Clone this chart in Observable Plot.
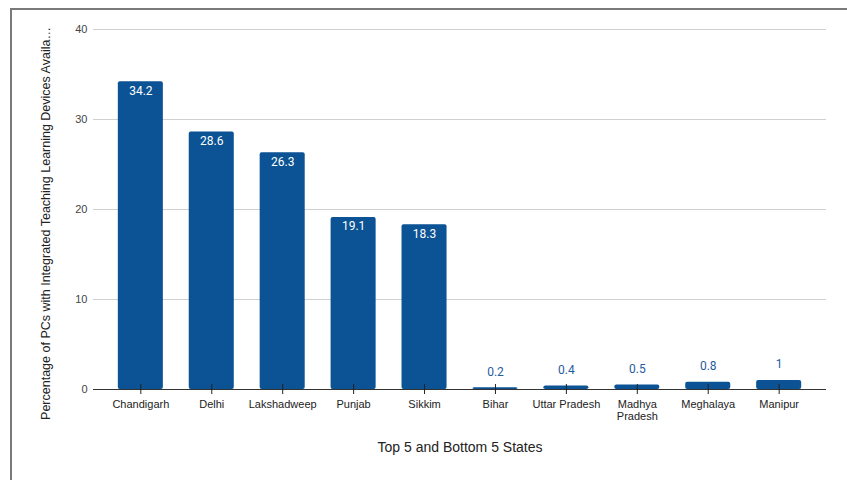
<!DOCTYPE html>
<html>
<head>
<meta charset="utf-8">
<script src="https://cdn.jsdelivr.net/npm/d3@7"></script>
<script src="https://cdn.jsdelivr.net/npm/@observablehq/plot@0.6"></script>
<style>
  html, body { margin: 0; padding: 0; background: #fff; }
  #wrap { position: relative; width: 847px; height: 480px; overflow: hidden; }
  #frame { position: absolute; left: 10px; top: 8px; width: 900px; height: 500px;
           border-left: 2px solid #7a7a7a; border-top: 2px solid #7a7a7a; pointer-events: none; }
</style>
</head>
<body>
<div id="wrap"><div id="frame"></div></div>
<script>
const states = ["Chandigarh", "Delhi", "Lakshadweep", "Punjab", "Sikkim", "Bihar", "Uttar Pradesh", "Madhya Pradesh", "Meghalaya", "Manipur"];
const values = [34.2, 28.6, 26.3, 19.1, 18.3, 0.2, 0.4, 0.5, 0.8, 1];
const yTicks = [0, 10, 20, 30, 40];
const yTitle = "Percentage of PCs with Integrated Teaching Learning Devices Availa\u2026";
const xTitle = "Top 5 and Bottom 5 States";
const tickLabels = {"Madhya Pradesh": "Madhya\nPradesh"};

const data = states.map((s, i) => ({state: s, value: values[i]}));
const barColor = "#0b5394";
const inside = d => d.value >= 5;

const chart = Plot.plot({
  width: 847,
  height: 480,
  marginLeft: 93,
  marginRight: 21,
  marginTop: 29,
  marginBottom: 91,
  style: {fontFamily: "Arial, 'Liberation Sans', sans-serif", background: "transparent"},
  x: {domain: states, paddingInner: 0.365, paddingOuter: 0.35, round: false, label: null},
  y: {domain: [0, 40], label: null},
  marks: [
    Plot.gridY(yTicks, {stroke: "#d0d0d0", strokeOpacity: 1}),
    Plot.axisY(yTicks, {tickSize: 0, tickPadding: 6, fontSize: 11, fill: "#444", label: null}),
    Plot.barY(data, {x: "state", y: "value", fill: barColor, rx: 2}),
    Plot.ruleY([0], {stroke: "#333", strokeWidth: 1}),
    Plot.axisX({tickSize: 10, dy: -5, tickFormat: () => "", stroke: "#222", label: null}),
    Plot.axisX({tickSize: 0, tickPadding: 10, fontSize: 11, fill: "#222", label: null,
                tickFormat: d => tickLabels[d] ?? d, lineHeight: 1.1}),
    Plot.text(data.filter(inside), {x: "state", y: "value", text: d => String(d.value), dy: 9,
              fill: "white", fontSize: 12, fontFamily: "Roboto"}),
    Plot.text(data.filter(d => !inside(d)), {x: "state", y: "value", text: d => String(d.value), dy: -16,
              fill: "#1f5ca0", fontSize: 12, fontFamily: "Roboto"}),
    Plot.text([xTitle], {frameAnchor: "bottom", dy: 62, fontSize: 14, fill: "#222"}),
    Plot.text([yTitle], {frameAnchor: "left", textAnchor: "middle", rotate: -90, dx: -48, dy: 14, fontSize: 12.5, fill: "#222"})
  ]
});
document.getElementById("wrap").prepend(chart);
</script>
</body>
</html>
